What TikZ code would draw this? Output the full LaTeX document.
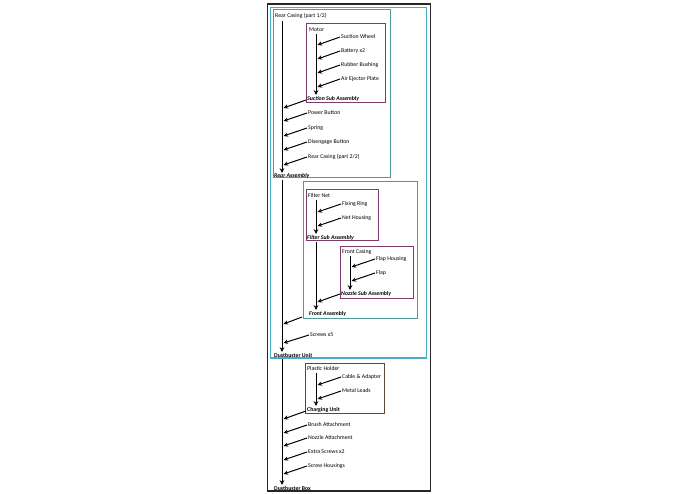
\documentclass[tikz,border=0pt]{standalone}
\usepackage{fontspec}
\setmainfont{Carlito}
\usetikzlibrary{arrows.meta}
\definecolor{outerc}{HTML}{262626}
\definecolor{unitc}{HTML}{4BACC6}
\definecolor{asmc}{HTML}{4E9A98}
\definecolor{subc}{HTML}{7E3B6E}
\definecolor{chgc}{HTML}{5E4A30}
\begin{document}
\begin{tikzpicture}[x=1pt,y=-1pt,
  lbl/.style={anchor=west,inner sep=0pt,font=\fontsize{5.8}{6}\selectfont},
  subl/.style={anchor=west,inner sep=0pt,font=\fontsize{5.8}{6}\selectfont\bfseries\itshape},
  unitl/.style={anchor=west,inner sep=0pt,font=\fontsize{5.8}{6}\selectfont\bfseries},
  feed/.style={line width=1pt,-{Stealth[length=4.5pt,width=4.3pt]}},
  flow/.style={line width=1pt,-{Stealth[length=4.8pt,width=4.6pt]}},
  boxline/.style={line width=1pt}
]
\useasboundingbox (0,0) rectangle (695,494);
\fill[white] (0,0) rectangle (695,494);

% containers
\draw[outerc,line width=1.7pt] (267.5,4) rectangle (430.5,491);
\draw[unitc,line width=1.6pt] (270.5,7.5) rectangle (426.5,358);
\draw[asmc,boxline] (273,10) rectangle (390,178);
\draw[subc,line width=0.9pt] (306,23) rectangle (385,102);
\draw[asmc,boxline] (303,182) rectangle (417,318);
\draw[subc,line width=0.9pt] (306,189) rectangle (378,240);
\draw[subc,line width=0.9pt] (340,246) rectangle (413,298);
\draw[chgc,line width=0.9pt] (305,363) rectangle (384,413);

% texts
\node[lbl] (rc1) at (275,16) {Rear Casing (part 1/2)};
\node[lbl] (motor) at (309,30) {Motor};
\node[lbl] (sw) at (341,37) {Suction Wheel};
\node[lbl] (bat) at (341,51) {Battery x2};
\node[lbl] (rb) at (341,65) {Rubber Bushing};
\node[lbl] (aep) at (341,79) {Air Ejector Plate};
\node[subl] (ssa) at (307,99) {Suction Sub Assembly};
\node[lbl] (pb) at (308,113) {Power Button};
\node[lbl] (spr) at (308,128) {Spring};
\node[lbl] (db) at (308,142) {Disengage Button};
\node[lbl] (rc2) at (308,157) {Rear Casing (part 2/2)};
\node[subl] (ra) at (274,176) {Rear Assembly};
\node[lbl] (fn) at (308,196) {Filter Net};
\node[lbl] (fr) at (342,204) {Fixing Ring};
\node[lbl] (nh) at (342,218) {Net Housing};
\node[subl] (fsa) at (307,238) {Filter Sub Assembly};
\node[lbl] (fc) at (342,252) {Front Casing};
\node[lbl] (fh) at (376,259) {Flap Housing};
\node[lbl] (flap) at (376,273) {Flap};
\node[subl] (nsa) at (341,294) {Nozzle Sub Assembly};
\node[subl] (fa) at (309,314) {Front Assembly};
\node[lbl] (scr) at (310,335) {Screws x5};
\node[unitl] (du) at (274,355) {Dustbuster Unit};
\node[lbl] (ph) at (307,369) {Plastic Holder};
\node[lbl] (ca) at (342,377) {Cable \& Adapter};
\node[lbl] (ml) at (342,391) {Metal Leads};
\node[unitl] (cu) at (307,410) {Charging Unit};
\node[lbl] (ba) at (308,425) {Brush Attachment};
\node[lbl] (na) at (308,438) {Nozzle Attachment};
\node[lbl] (es) at (308,452) {Extra Screws x2};
\node[lbl] (sh) at (308,466) {Screw Housings};
\node[unitl] (dbox) at (274,488) {Dustbuster Box};

% vertical line coordinates
\coordinate (r0) at (282,21);
\coordinate (r1) at (282,173);
\coordinate (r2) at (282,180);
\coordinate (r3) at (282,352);
\coordinate (r4) at (282,359);
\coordinate (r5) at (282,485);
\coordinate (m0) at (316,34);
\coordinate (m1) at (316,95);
\coordinate (f0) at (316,200);
\coordinate (f1) at (316,234);
\coordinate (f2) at (316,242);
\coordinate (f3) at (316,310);
\coordinate (n0) at (350,256);
\coordinate (n1) at (350,290);
\coordinate (c0) at (316,373);
\coordinate (c1) at (316,406);

\draw[flow] (r0) -- (r1);
\draw[flow] (r2) -- (r3);
\draw[flow] (r4) -- (r5);
\draw[flow] (m0) -- (m1);
\draw[flow] (f0) -- (f1);
\draw[flow] (f2) -- (f3);
\draw[flow] (n0) -- (n1);
\draw[flow] (c0) -- (c1);

% feeding arrow targets
\coordinate (tsw) at (317.5,45);
\coordinate (tbat) at (317.5,59);
\coordinate (trb) at (317.5,73);
\coordinate (taep) at (317.5,87);
\coordinate (tssa) at (283.5,108);
\coordinate (tpb) at (283.5,121);
\coordinate (tspr) at (283.5,136);
\coordinate (tdb) at (283.5,150);
\coordinate (trc2) at (283.5,165);
\coordinate (tfr) at (317.5,212);
\coordinate (tnh) at (317.5,226);
\coordinate (tfh) at (351.5,267);
\coordinate (tflap) at (351.5,281);
\coordinate (tnsa) at (317.5,302);
\coordinate (tfa) at (283.5,324);
\coordinate (tscr) at (283.5,343);
\coordinate (tca) at (317.5,385);
\coordinate (tml) at (317.5,399);
\coordinate (tcu) at (283.5,419);
\coordinate (tba) at (283.5,433);
\coordinate (tna) at (283.5,446);
\coordinate (tes) at (283.5,460);
\coordinate (tsh) at (283.5,474);

\draw[feed] ([xshift=-1pt]sw.west) -- (tsw);
\draw[feed] ([xshift=-1pt]bat.west) -- (tbat);
\draw[feed] ([xshift=-1pt]rb.west) -- (trb);
\draw[feed] ([xshift=-1pt]aep.west) -- (taep);
\draw[feed] ([xshift=-1pt,yshift=-1pt]ssa.west) -- (tssa);
\draw[feed] ([xshift=-1pt]pb.west) -- (tpb);
\draw[feed] ([xshift=-1pt]spr.west) -- (tspr);
\draw[feed] ([xshift=-1pt]db.west) -- (tdb);
\draw[feed] ([xshift=-1pt]rc2.west) -- (trc2);
\draw[feed] ([xshift=-1pt]fr.west) -- (tfr);
\draw[feed] ([xshift=-1pt]nh.west) -- (tnh);
\draw[feed] ([xshift=-1pt]fh.west) -- (tfh);
\draw[feed] ([xshift=-1pt]flap.west) -- (tflap);
\draw[feed] ([xshift=-1pt]nsa.west) -- (tnsa);
\draw[feed] ([xshift=-7pt,yshift=-3pt]fa.west) -- (tfa);
\draw[feed] ([xshift=-1pt]scr.west) -- (tscr);
\draw[feed] ([xshift=-1pt]ca.west) -- (tca);
\draw[feed] ([xshift=-1pt]ml.west) -- (tml);
\draw[feed] ([xshift=-1pt,yshift=-1pt]cu.west) -- (tcu);
\draw[feed] ([xshift=-1pt]ba.west) -- (tba);
\draw[feed] ([xshift=-1pt]na.west) -- (tna);
\draw[feed] ([xshift=-1pt]es.west) -- (tes);
\draw[feed] ([xshift=-1pt]sh.west) -- (tsh);
\end{tikzpicture}
\end{document}
